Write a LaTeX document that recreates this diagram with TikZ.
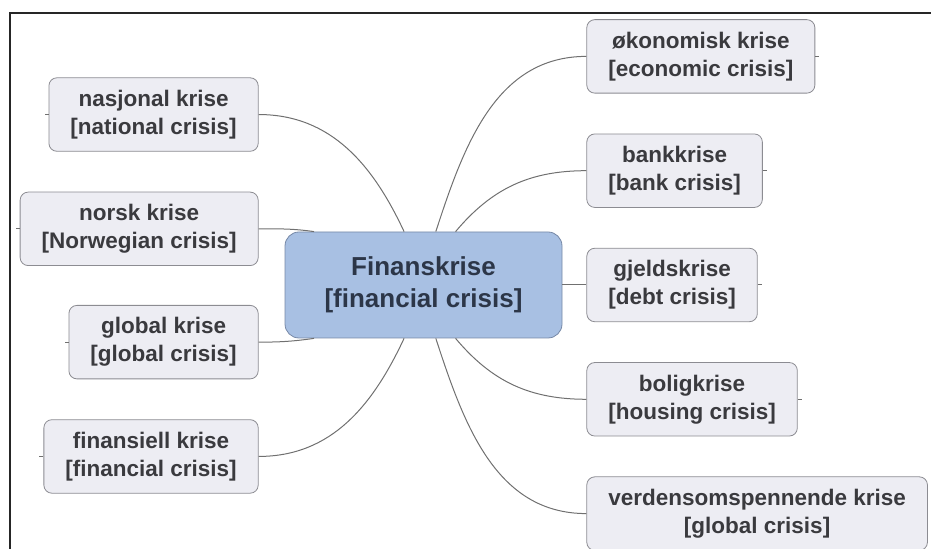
\documentclass[tikz,border=0pt]{standalone}
\usepackage{fontspec}
\setmainfont{Liberation Sans}
\usetikzlibrary{positioning}
\definecolor{leaffill}{RGB}{237,237,243}
\definecolor{leafline}{RGB}{140,140,146}
\definecolor{leaftext}{RGB}{58,58,62}
\definecolor{mainfill}{RGB}{168,192,227}
\definecolor{mainline}{RGB}{118,136,166}
\definecolor{maintext}{RGB}{44,54,72}
\definecolor{linkgray}{RGB}{112,112,112}
\tikzset{
    %Define style for boxes
    krise/.style={
           rectangle,
           rounded corners=4pt,
           draw=leafline, fill=leaffill,
           text=leaftext,
           font=\fontsize{11.25}{14}\selectfont\bfseries,
           align=center,
           inner xsep=10.75pt,
           minimum height=36.75pt},
    % Define line style
    link/.style={
           draw=linkgray,
           line width=0.5pt}
}
\begin{document}
\begin{tikzpicture}[x=0.5pt, y=0.5pt,
hoved/.style={rectangle, rounded corners=7pt, draw=mainline, fill=mainfill, text=maintext,
  font=\fontsize{13}{16}\selectfont\bfseries, align=center,
  minimum width=138.5pt, minimum height=53pt}
]
\useasboundingbox (0,0) rectangle (931,549);
%Frame
\draw[line width=1pt, black!85] (931,536) -- (10,536) -- (10,0);
%Nodes
\node[hoved] (main) at (423.5,264) {Finanskrise\\{[}financial crisis]};
\node[krise, left=13pt of main.west, anchor=south east, yshift=9.5pt] (norsk) {norsk krise\\{[}Norwegian crisis]};
\node[krise, above=20pt of norsk.north east, anchor=south east] (nasjonal) {nasjonal krise\\{[}national crisis]};
\node[krise, below=19.5pt of norsk.south east, anchor=north east] (global) {global krise\\{[}global crisis]};
\node[krise, below=20pt of global.south east, anchor=north east] (finansiell) {finansiell krise\\{[}financial crisis]};
\node[krise, right=12pt of main] (gjeld) {gjeldskrise\\{[}debt crisis]};
\node[krise, above=20pt of gjeld.north west, anchor=south west] (bank) {bankkrise\\{[}bank crisis]};
\node[krise, above=20pt of bank.north west, anchor=south west] (okonomisk) {økonomisk krise\\{[}economic crisis]};
\node[krise, below=20pt of gjeld.south west, anchor=north west] (bolig) {boligkrise\\{[}housing crisis]};
\node[krise, below=20pt of bolig.south west, anchor=north west] (verdens) {verdensomspennende krise\\{[}global crisis]};
%Links
\draw[link] (nasjonal.east) to[out=0, in=115] (main.110);
\draw[link] (norsk.east) to[out=0, in=172] (main.154);
\draw[link] (global.east) to[out=0, in=188] (main.206);
\draw[link] (finansiell.east) to[out=0, in=245] (main.250);
\draw[link] (main.77) to[out=72, in=180] (okonomisk.west);
\draw[link] (main.59) to[out=50, in=180] (bank.west);
\draw[link] (main.east) -- (gjeld.west);
\draw[link] (main.301) to[out=-50, in=180] (bolig.west);
\draw[link] (main.283) to[out=-72, in=180] (verdens.west);
\foreach \n in {nasjonal,norsk,global,finansiell}
  \draw[link] (\n.west) -- ++(-4,0);
\foreach \n in {okonomisk,bank,gjeld,bolig}
  \draw[link] (\n.east) -- ++(4,0);
\end{tikzpicture}
\end{document}
